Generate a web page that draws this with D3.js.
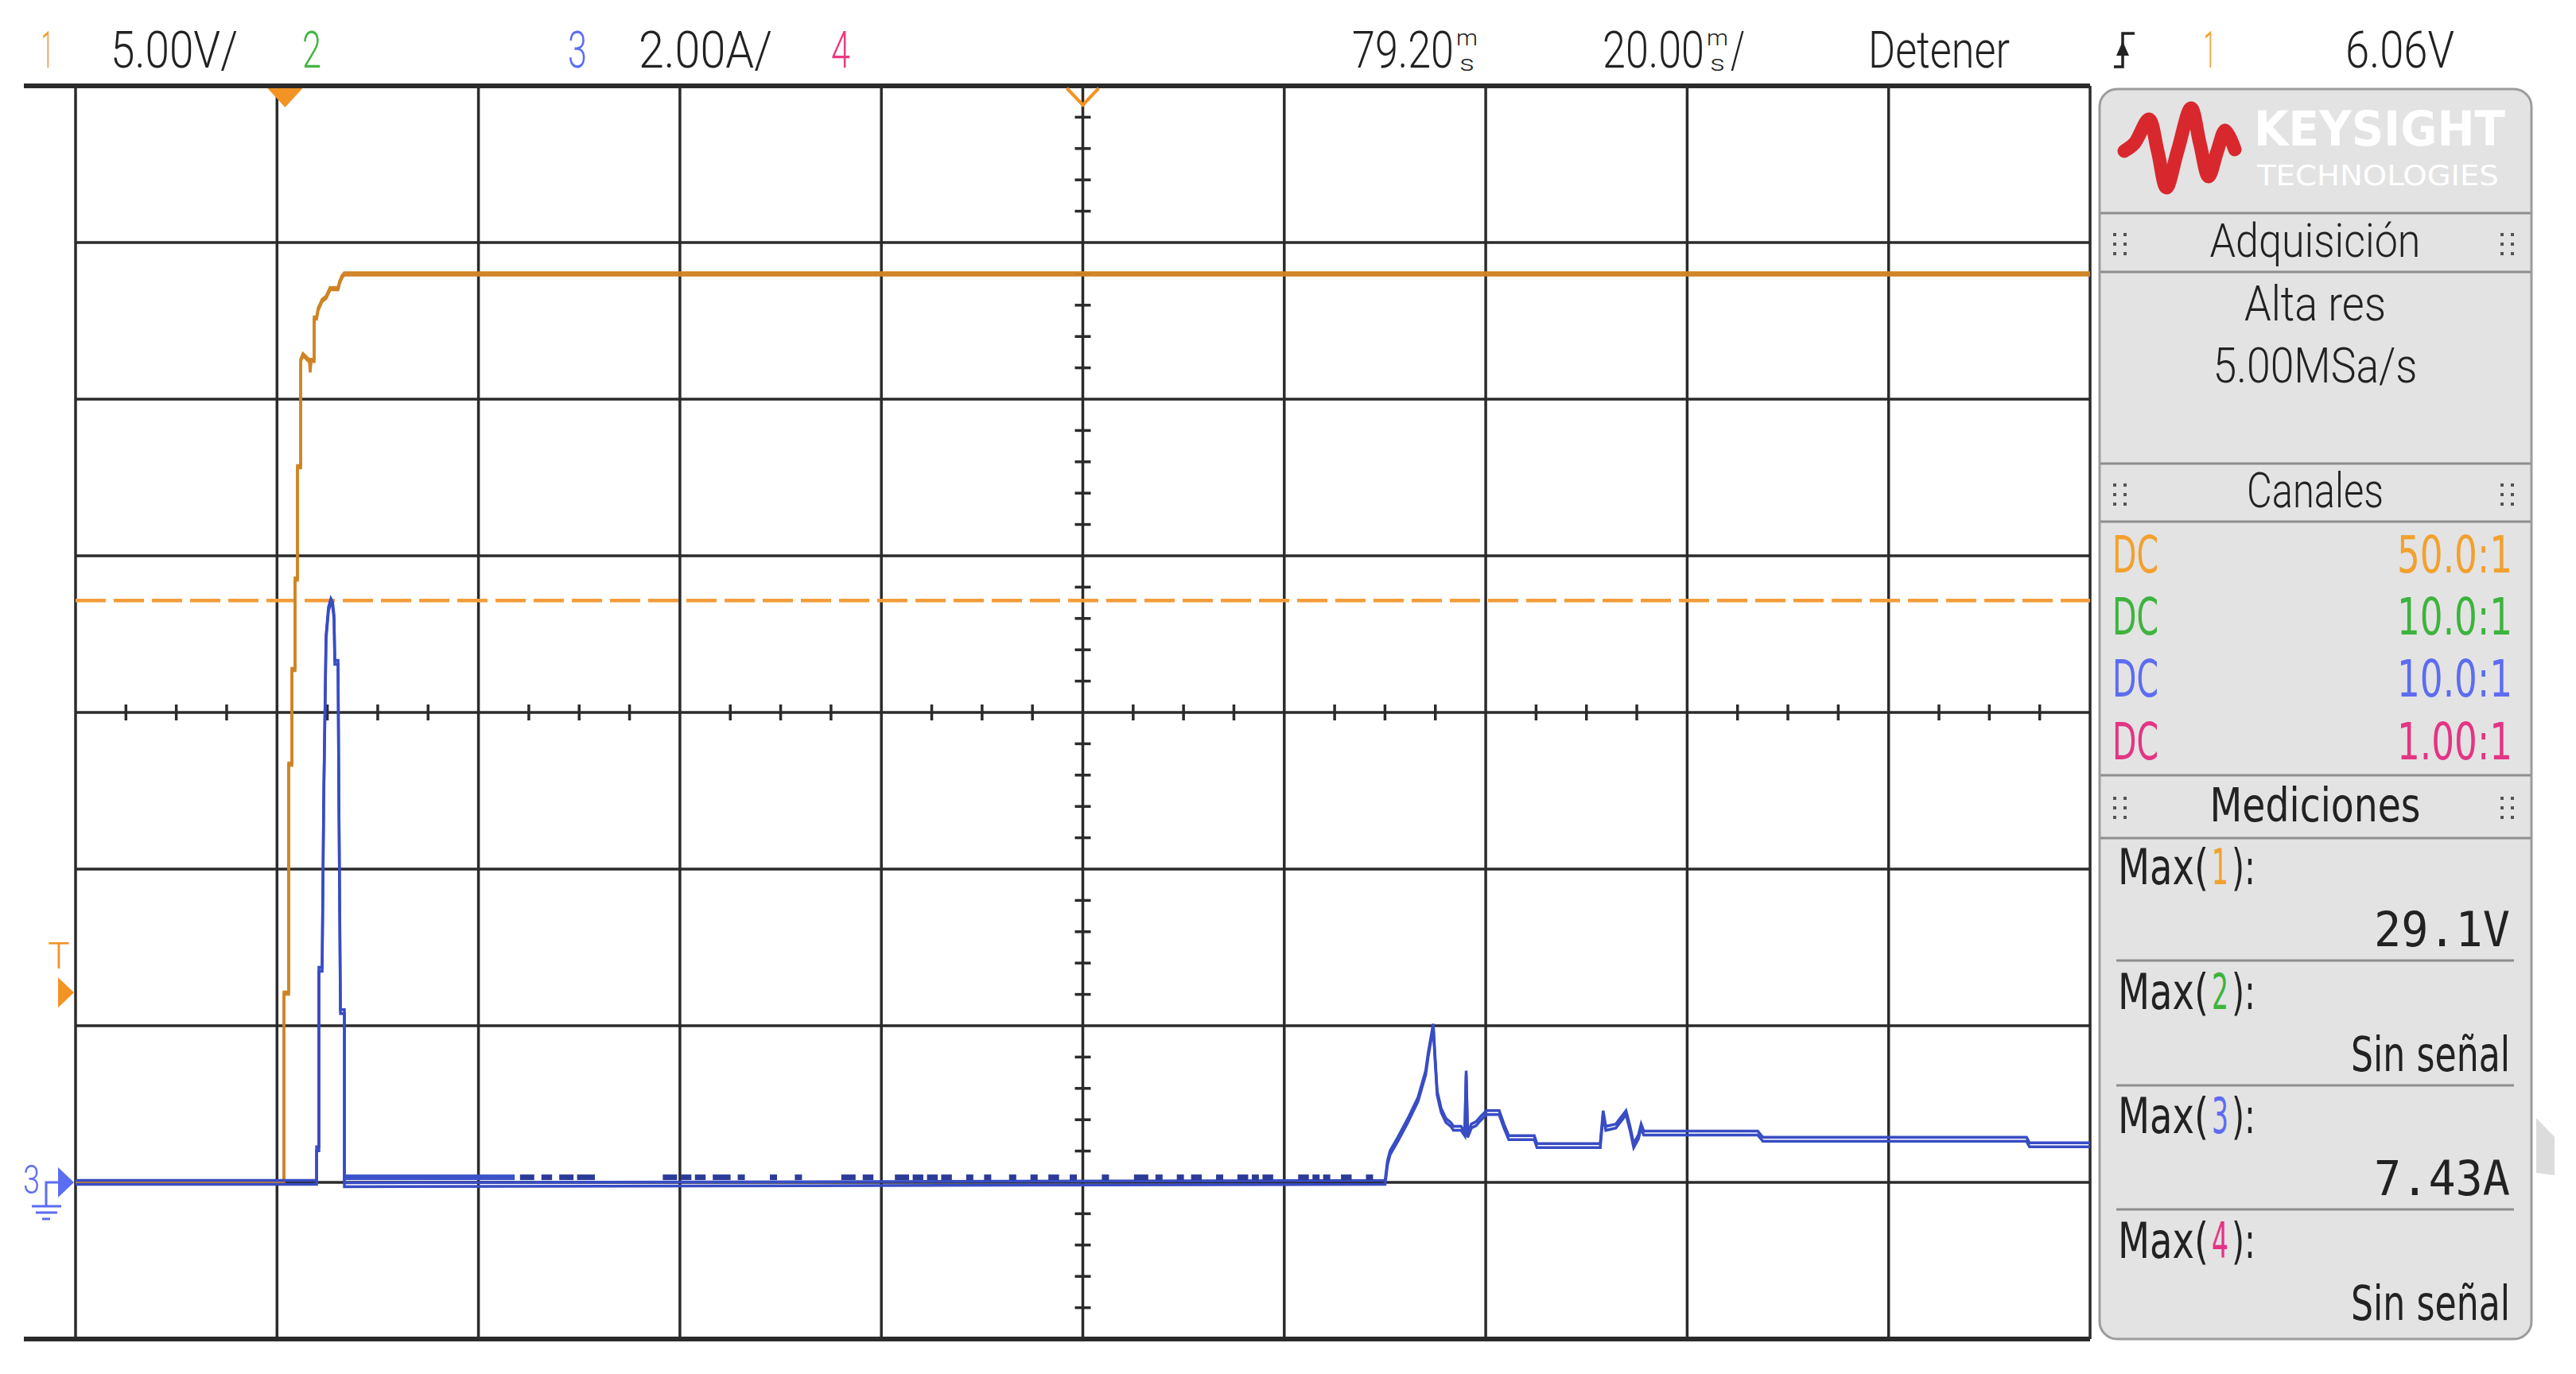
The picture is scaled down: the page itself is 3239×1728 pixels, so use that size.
<!DOCTYPE html>
<html lang="es">
<head>
<meta charset="UTF-8">
<title>Osciloscopio Keysight</title>
<style>
  html, body { margin: 0; padding: 0; background: #fff; }
  svg { display: block; }
  .cond { font-family: Roboto, "DejaVu Sans Condensed", "DejaVu Sans", sans-serif; font-weight: 300; }
  .sans { font-family: "DejaVu Sans", Verdana, sans-serif; }
  .mono { font-family: "DejaVu Sans Mono", "Liberation Mono", monospace; }
</style>
</head>
<body>
<svg id="scope" width="3239" height="1728"></svg>
<script src="https://d3js.org/d3.v7.min.js"></script>
<script>
// ---- settings ----
const timePerDiv = 20;          // ms/div
const timeCentre = 79.2;        // ms
const voltPerDiv = 5;           // V/div, channel 1
const ampPerDiv = 2;            // A/div, channel 3
const triggerLevel = 6.06;      // V
const maxCh3 = 7.43;            // A (dashed marker)

// channel 1 (V) vs time (ms)
const ch1Time = [-20.8, -0.11, -0.11, 0.36, 0.36, 0.68, 0.68, 0.99, 0.99, 1.23, 1.23, 1.55, 1.55, 1.78, 2.42, 2.50, 2.57, 2.89, 2.89, 3.13, 3.28, 3.68, 4.07, 4.47, 5.26, 5.42, 5.65, 5.89, 179.2];
const ch1Volt = [0, 0, 6.04, 6.04, 13.35, 13.35, 16.37, 16.37, 19.26, 19.26, 22.84, 22.84, 26.24, 26.42, 26.22, 25.89, 26.24, 26.24, 27.59, 27.59, 27.87, 28.15, 28.25, 28.53, 28.53, 28.73, 28.91, 29.0, 29.0];

// channel 3 (A): inrush pulse, then flat until the second event
const ch3PulseTime = [-20.8, 3.13, 3.13, 3.36, 3.36, 3.68, 3.84, 4.07, 4.31, 4.55, 4.71, 4.86, 4.94, 5.26, 5.34, 5.50, 5.89, 5.89];
const ch3PulseAmp  = [0, 0, 0.43, 0.43, 2.72, 2.72, 4.93, 6.96, 7.32, 7.43, 7.39, 7.22, 6.64, 6.64, 4.93, 2.18, 2.18, -0.03];

// channel 3: noise blips sitting on the baseline (start, end in ms)
const ch3BlipLevel = 0.07;
const ch3BlipStart = [5.95, 23.32, 25.45, 27.22, 28.99, 37.50, 39.27, 40.69, 42.46, 44.94, 48.13, 50.61, 55.22, 57.35, 60.54, 62.31, 63.73, 65.14, 67.62, 69.40, 71.88, 74.00, 75.78, 77.90, 81.09, 84.28, 86.41, 88.53, 89.95, 92.43, 94.55, 95.98, 97.04, 100.58, 102.00, 103.06, 104.83, 107.31];
const ch3BlipEnd   = [22.80, 24.74, 26.51, 28.64, 30.76, 38.92, 40.34, 41.75, 44.23, 45.65, 48.84, 51.32, 56.64, 58.41, 61.95, 63.37, 64.79, 66.20, 68.33, 70.11, 72.59, 74.72, 76.84, 78.61, 81.80, 85.70, 87.12, 89.24, 91.01, 93.14, 95.62, 96.68, 98.10, 101.64, 102.71, 103.77, 105.89, 108.02];

// channel 3: second event
const ch3EventTime = [109.21, 109.45, 109.71, 110.47, 111.47, 112.48, 113.24, 113.49, 113.99, 114.15, 114.38, 114.78, 115.25, 115.73, 116.00, 116.75, 117.12, 117.26, 117.41, 117.78, 118.25, 118.72, 119.28, 120.54, 121.01, 121.49, 124.02, 124.29, 130.57, 130.86, 131.12, 132.12, 133.13, 133.53, 133.89, 134.36, 134.63, 134.89, 146.20, 146.72, 172.89, 173.19, 179.2];
const ch3EventAmp  = [0, 0.25, 0.38, 0.55, 0.79, 1.06, 1.40, 1.63, 2.00, 1.63, 1.14, 0.92, 0.79, 0.74, 0.69, 0.69, 0.62, 1.40, 0.60, 0.72, 0.75, 0.82, 0.89, 0.89, 0.72, 0.57, 0.57, 0.47, 0.47, 0.89, 0.69, 0.72, 0.89, 0.69, 0.47, 0.58, 0.72, 0.63, 0.63, 0.55, 0.55, 0.48, 0.48];

// side panel text
const channelCoupling = ['DC', 'DC', 'DC', 'DC'];
const channelProbe = ['50.0:1', '10.0:1', '10.0:1', '1.00:1'];
const channelColors = ['#f2a12e', '#3db43d', '#5d6cf0', '#e33583'];
const measLabels = ['1', '2', '3', '4'];
const measValues = ['29.1V', 'Sin señal', '7.43A', 'Sin señal'];

// ---- layout ----
const gx0 = 95, gx1 = 2628, gy0 = 108, gy1 = 1684;
const svg = d3.select('#scope');

const x = d3.scaleLinear()
    .domain([timeCentre - 5 * timePerDiv, timeCentre + 5 * timePerDiv])
    .range([gx0, gx1]);
const yV = d3.scaleLinear().domain([-1 * voltPerDiv, 7 * voltPerDiv]).range([gy1, gy0]);
const yA = d3.scaleLinear().domain([-1 * ampPerDiv, 7 * ampPerDiv]).range([gy1, gy0]);

// text helper: draws at natural size, then squeezes horizontally to the wanted width
function txt(s, px, py, size, cls, fill, anchor, len, weight) {
    const t = svg.append('text').attr('x', 0).attr('y', 0)
        .attr('font-size', size).attr('class', cls).attr('fill', fill)
        .attr('text-anchor', anchor || 'start').text(s);
    if (weight) t.attr('font-weight', weight);
    let sx = 1;
    if (len) {
        const w = t.node().getComputedTextLength();
        if (w > 0) sx = len / w;
    }
    t.attr('transform', `translate(${px},${py}) scale(${sx},1)`);
    return t;
}

// ---- grid ----
const grid = svg.append('g');
const xLines = d3.range(11).map(i => x.domain()[0] + i * timePerDiv);
const yLines = d3.range(9).map(i => yV.domain()[0] + i * voltPerDiv);

grid.selectAll('line.v').data(xLines).join('line')
    .attr('x1', d => x(d)).attr('x2', d => x(d))
    .attr('y1', gy0).attr('y2', gy1)
    .attr('stroke', '#2b2b2b').attr('stroke-width', 3.5);

grid.selectAll('line.h').data(yLines).join('line')
    .attr('x1', (d, i) => (i === 0 || i === 8) ? 30 : gx0).attr('x2', gx1)
    .attr('y1', d => yV(d)).attr('y2', d => yV(d))
    .attr('stroke', '#2b2b2b')
    .attr('stroke-width', (d, i) => (i === 0 || i === 8) ? 6 : 3.5);

// minor ticks on the centre axes
const xc = x(timeCentre), yc = yV(3 * voltPerDiv);
const vTicks = d3.range(-5, 35.01, 1).filter(v => Math.abs(v % 5) > 0.01);
grid.selectAll('line.vt').data(vTicks).join('line')
    .attr('x1', xc - 10).attr('x2', xc + 10)
    .attr('y1', d => yV(d)).attr('y2', d => yV(d))
    .attr('stroke', '#2b2b2b').attr('stroke-width', 3.5);
const hTicks = d3.range(0, 40).map(i => x.domain()[0] + i * timePerDiv / 4).filter((d, i) => i % 4 !== 0);
grid.selectAll('line.ht').data(hTicks).join('line')
    .attr('x1', d => x(d)).attr('x2', d => x(d))
    .attr('y1', yc - 10).attr('y2', yc + 10)
    .attr('stroke', '#2b2b2b').attr('stroke-width', 3.5);

// ---- dashed max marker ----
svg.append('line')
    .attr('x1', gx0).attr('x2', gx1)
    .attr('y1', yA(maxCh3)).attr('y2', yA(maxCh3))
    .attr('stroke', '#f49c3a').attr('stroke-width', 4.5)
    .attr('stroke-dasharray', '38 10');

// ---- traces ----
const ch1 = ch1Time.map((t, i) => ({t: t, v: ch1Volt[i]}));
const ch3 = ch3PulseTime.map((t, i) => ({t: t, v: ch3PulseAmp[i]}))
    .concat(ch3EventTime.map((t, i) => ({t: t, v: ch3EventAmp[i]})));

const lineV = d3.line().x(d => x(d.t)).y(d => yV(d.v));
const lineA = d3.line().x(d => x(d.t)).y(d => yA(d.v));

const traces = svg.append('g').attr('fill', 'none').attr('stroke-linejoin', 'miter');
[-1.5, 1.5].forEach(dy => {
    traces.append('path').datum(ch1)
        .attr('d', lineV).attr('transform', `translate(0,${dy})`)
        .attr('stroke', '#cf8424').attr('stroke-width', 3.5);
});
[-2.5, 2.5].forEach(dy => {
    traces.append('path').datum(ch3)
        .attr('d', lineA).attr('transform', `translate(0,${dy})`)
        .attr('stroke', '#384cc4').attr('stroke-width', 3.5);
});
// noise blips drawn as short dashes above the baseline
const blips = ch3BlipStart.map((s, i) => ({s: s, e: ch3BlipEnd[i]}));
traces.selectAll('rect.blip').data(blips).join('rect')
    .attr('x', d => x(d.s)).attr('width', d => x(d.e) - x(d.s))
    .attr('y', yA(ch3BlipLevel) - 3).attr('height', 7)
    .attr('stroke', 'none')
    .attr('fill', (d, i) => i === 0 ? '#3c51c9' : '#2c3b98');

// ---- markers ----
const orange = '#f29323';
const tx0 = x(0);
svg.append('path')
    .attr('d', `M${tx0 - 22},${gy0 + 3} L${tx0 + 22},${gy0 + 3} L${tx0},${gy0 + 27} Z`)
    .attr('fill', orange);
svg.append('path')
    .attr('d', `M${xc - 20},${gy0 + 3} L${xc},${gy0 + 24} L${xc + 20},${gy0 + 3}`)
    .attr('fill', 'none').attr('stroke', orange).attr('stroke-width', 4);

const yT = yV(triggerLevel);
txt('T', 74, yT - 30, 46, 'cond', orange, 'middle', null);
svg.append('path')
    .attr('d', `M73,${yT - 19} L93,${yT} L73,${yT + 19} Z`).attr('fill', orange);

const blueM = '#5b6df2';
const yG = yA(0);
svg.append('path')
    .attr('d', `M73,${yG - 19} L93,${yG} L73,${yG + 19} Z`).attr('fill', blueM);
svg.append('path')
    .attr('d', `M58,${yG + 30} V${yG} H73 M40,${yG + 30} H77 M45,${yG + 38} H72 M53,${yG + 46} H63`)
    .attr('fill', 'none').attr('stroke', blueM).attr('stroke-width', 3);
txt('3', 29, yG + 14, 50, 'cond', blueM, 'start', 21);

// ---- header ----
const hy = 85, hs = 64, ink = '#222';
// value followed by a stacked "m over s" unit
function stacked(value, px, len, tail) {
    txt(value, px, hy, hs, 'cond', ink, 'start', len);
    txt('m', px + len + 3, 57, 27, 'cond', ink, 'start', 27);
    txt('s', px + len + 7, 89, 27, 'cond', ink, 'start', 19);
    if (tail) txt(tail, px + len + 33, hy, hs, 'cond', ink, 'start', 18);
}
txt('1', 52, hy, hs, 'cond', '#f3a22c', 'start', 15);
txt('5.00V/', 139, hy, hs, 'cond', ink, 'start', 160);
txt('2', 380, hy, hs, 'cond', '#42b642', 'start', 24);
txt('3', 714, hy, hs, 'cond', '#5b6df5', 'start', 24);
txt('2.00A/', 803, hy, hs, 'cond', ink, 'start', 168);
txt('4', 1045, hy, hs, 'cond', '#ea3a83', 'start', 24);
stacked('79.20', 1700, 128, null);
stacked('20.00', 2015, 128, '/');
txt('Detener', 2349, hy, hs, 'cond', ink, 'start', 178);
svg.append('path').attr('d', 'M2658,84 H2669 V42 H2684').attr('fill', 'none').attr('stroke', ink).attr('stroke-width', 3.5);
svg.append('path').attr('d', 'M2661,70 L2677,70 L2669,52 Z').attr('fill', ink);
txt('1', 2771, hy, hs, 'cond', '#f3a22c', 'start', 15);
txt('6.06V', 2949, hy, hs, 'cond', ink, 'start', 137);

// ---- side panel ----
const px0 = 2640, px1 = 3183, pcx = 2911;
const panel = svg.append('g');
panel.append('rect').attr('x', px0).attr('y', 112).attr('width', px1 - px0).attr('height', 1684 - 112)
    .attr('rx', 22).attr('fill', '#e3e3e3').attr('stroke', '#9c9c9c').attr('stroke-width', 3);

// logo
panel.append('path')
    .attr('d', d3.line().curve(d3.curveCatmullRom)([[2671, 190], [2684, 180], [2702, 150], [2713, 190], [2724, 236], [2738, 190], [2755, 136], [2766, 180], [2777, 222], [2788, 190], [2798, 164], [2810, 188]]))
    .attr('fill', 'none').attr('stroke', '#d9272e').attr('stroke-width', 17).attr('stroke-linecap', 'round');
txt('KEYSIGHT', 2834, 183, 60, 'sans', '#ffffff', 'start', 316, 'bold');
txt('TECHNOLOGIES', 2838, 233, 36, 'sans', '#ffffff', 'start', 304);

const seps = [268, 342, 583, 656, 975, 1054];
panel.selectAll('line.sep').data(seps).join('line')
    .attr('x1', px0 + 1).attr('x2', px1 - 1).attr('y1', d => d).attr('y2', d => d)
    .attr('stroke', '#8e8e8e').attr('stroke-width', 3);

function dots(cy) {
    [2659, 2672, 3146, 3159].forEach(dx => {
        [cy - 12, cy, cy + 12].forEach(dy => {
            panel.append('rect').attr('x', dx - 2).attr('y', dy - 2).attr('width', 4).attr('height', 4).attr('fill', '#555');
        });
    });
}
txt('Adquisición', pcx, 323, 60, 'cond', ink, 'middle', 265);
dots(307);
txt('Alta res', pcx, 403, 62, 'cond', ink, 'middle', 178);
txt('5.00MSa/s', pcx, 481, 62, 'cond', ink, 'middle', 257);
txt('Canales', pcx, 638, 62, 'cond', ink, 'middle', 172);
dots(622);

const rowY = [720, 798, 876, 955];
channelCoupling.forEach((c, i) => {
    txt(c, 2656, rowY[i], 64, 'sans', channelColors[i], 'start', 58);
    txt(channelProbe[i], 3159, rowY[i], 64, 'sans', channelColors[i], 'end', 145);
});

txt('Mediciones', pcx, 1033, 58, 'sans', ink, 'middle', 265);
dots(1016);

const measY = [1112, 1269, 1425, 1582];
measLabels.forEach((m, i) => {
    txt('Max(', 2663, measY[i], 62, 'sans', ink, 'start', 114);
    txt(m, 2781, measY[i], 62, 'sans', channelColors[i], 'start', 21);
    txt('):', 2806, measY[i], 62, 'sans', ink, 'start', 30);
    const isNum = measValues[i].indexOf('Sin') < 0;
    txt(measValues[i], 3156, measY[i] + 78, 60, isNum ? 'mono' : 'sans', ink, 'end', isNum ? 171 : 200);
    if (i < 3) {
        panel.append('line').attr('x1', 2661).attr('x2', 3161)
            .attr('y1', measY[i] + 96).attr('y2', measY[i] + 96)
            .attr('stroke', '#8e8e8e').attr('stroke-width', 3);
    }
});

// faint shape right of the panel
svg.append('path').attr('d', 'M3189,1406 L3212,1430 L3212,1478 L3189,1475 Z').attr('fill', '#dcdcdc');
</script>
</body>
</html>
